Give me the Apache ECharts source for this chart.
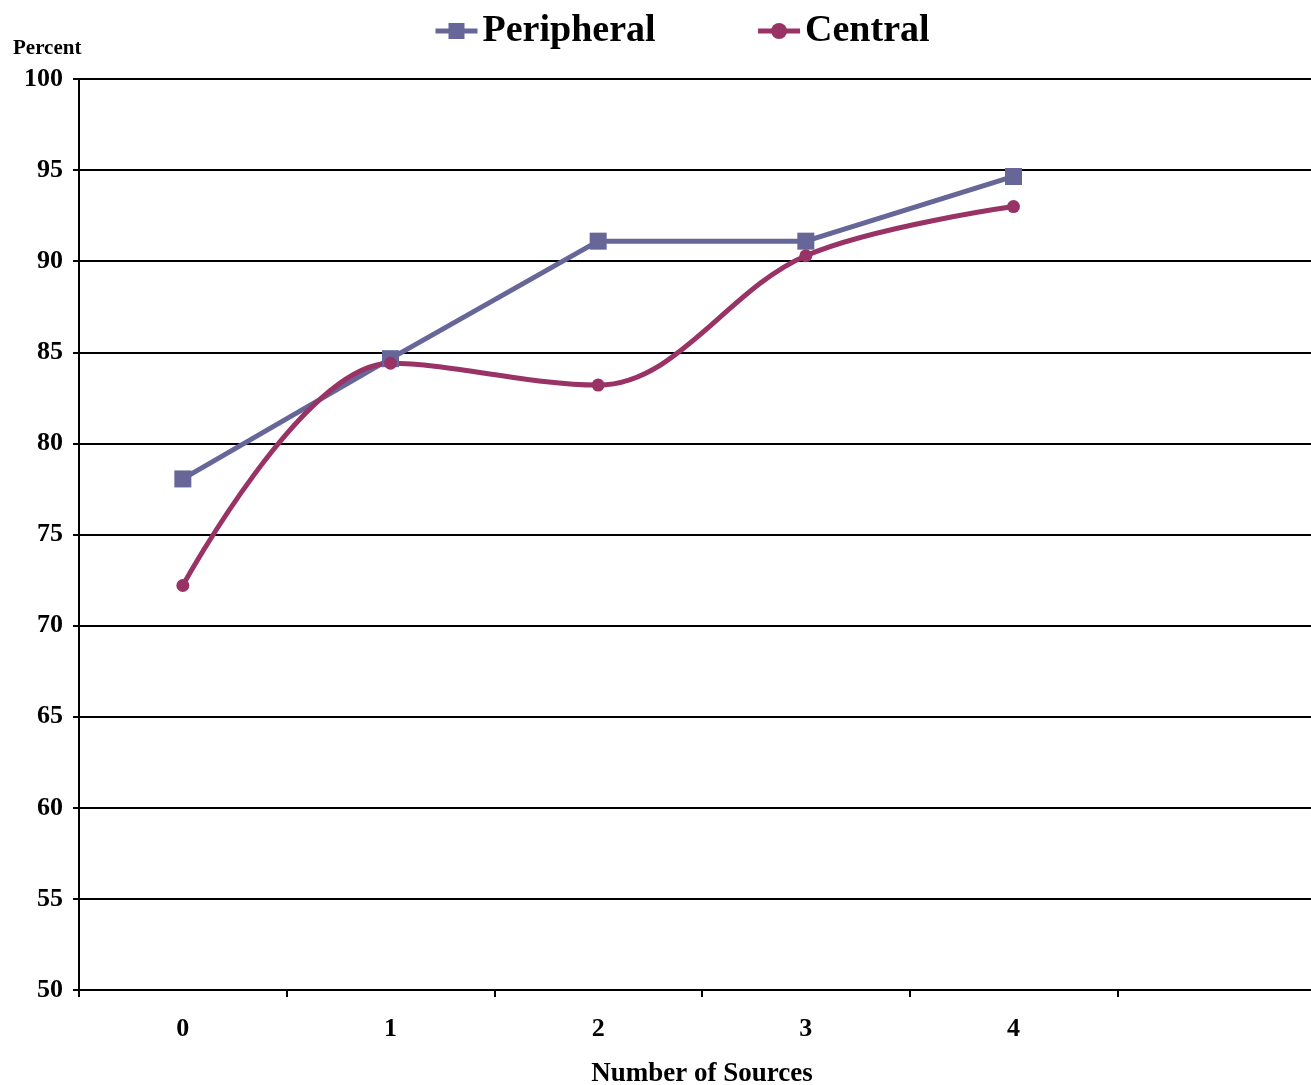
<!DOCTYPE html>
<html>
<head>
<meta charset="utf-8">
<script src="https://cdn.jsdelivr.net/npm/echarts@6/dist/echarts.min.js"></script>
<style>
html,body{margin:0;padding:0;background:#fff;}
#chart{width:1311px;height:1085px;}
</style>
</head>
<body>
<div id="chart"></div>
<script>
var categories = ['0', '1', '2', '3', '4', ''];
var peripheral = [78.05, 84.65, 91.1, 91.1, 94.65];
var central = [72.2, 84.4, 83.2, 90.3, 93.0];
var yTicks = [50, 55, 60, 65, 70, 75, 80, 85, 90, 95, 100];

var FONT = '"Liberation Serif", "Times New Roman", serif';
var chart = echarts.init(document.getElementById('chart'));
chart.setOption({
  animation: false,
  backgroundColor: '#fff',
  title: {
    text: 'Percent',
    left: 8, top: 33,
    textStyle: {fontFamily: FONT, fontWeight: 'bold', fontSize: 21, color: '#000'}
  },
  legend: {
    left: 428, top: 7,
    itemWidth: 42, itemHeight: 20, itemGap: 100,
    lineStyle: {width: 5},
    textStyle: {fontFamily: FONT, fontWeight: 'bold', fontSize: 38, color: '#000'},
    data: ['Peripheral', 'Central']
  },
  grid: {left: 79, top: 79, right: -14, bottom: 95, outerBoundsMode: 'none', containLabel: false},
  xAxis: {
    type: 'category',
    data: categories,
    boundaryGap: true,
    axisLine: {lineStyle: {color: '#000', width: 2}},
    axisTick: {show: true, length: 7, lineStyle: {color: '#000', width: 2}},
    axisLabel: {fontFamily: FONT, fontWeight: 'bold', fontSize: 26, color: '#000', margin: 26},
    name: 'Number of Sources',
    nameLocation: 'middle',
    nameGap: 71,
    nameTextStyle: {fontFamily: FONT, fontWeight: 'bold', fontSize: 27, color: '#000', verticalAlign: 'top'}
  },
  yAxis: {
    type: 'value',
    min: yTicks[0], max: yTicks[yTicks.length - 1], interval: 5,
    axisLine: {show: true, lineStyle: {color: '#000', width: 2}},
    axisTick: {show: true, length: 6, lineStyle: {color: '#000', width: 2}},
    axisLabel: {fontFamily: FONT, fontWeight: 'bold', fontSize: 26, color: '#000', margin: 16},
    splitLine: {show: true, lineStyle: {color: '#000', width: 2}}
  },
  series: [
    {
      name: 'Peripheral',
      type: 'line',
      data: peripheral,
      symbol: 'rect',
      symbolSize: 17,
      lineStyle: {color: '#666699', width: 5},
      itemStyle: {color: '#666699'}
    },
    {
      name: 'Central',
      type: 'line',
      data: central,
      smooth: 0.35,
      symbol: 'circle',
      symbolSize: 13,
      lineStyle: {color: '#993366', width: 5},
      itemStyle: {color: '#993366'}
    }
  ]
});
</script>
</body>
</html>
